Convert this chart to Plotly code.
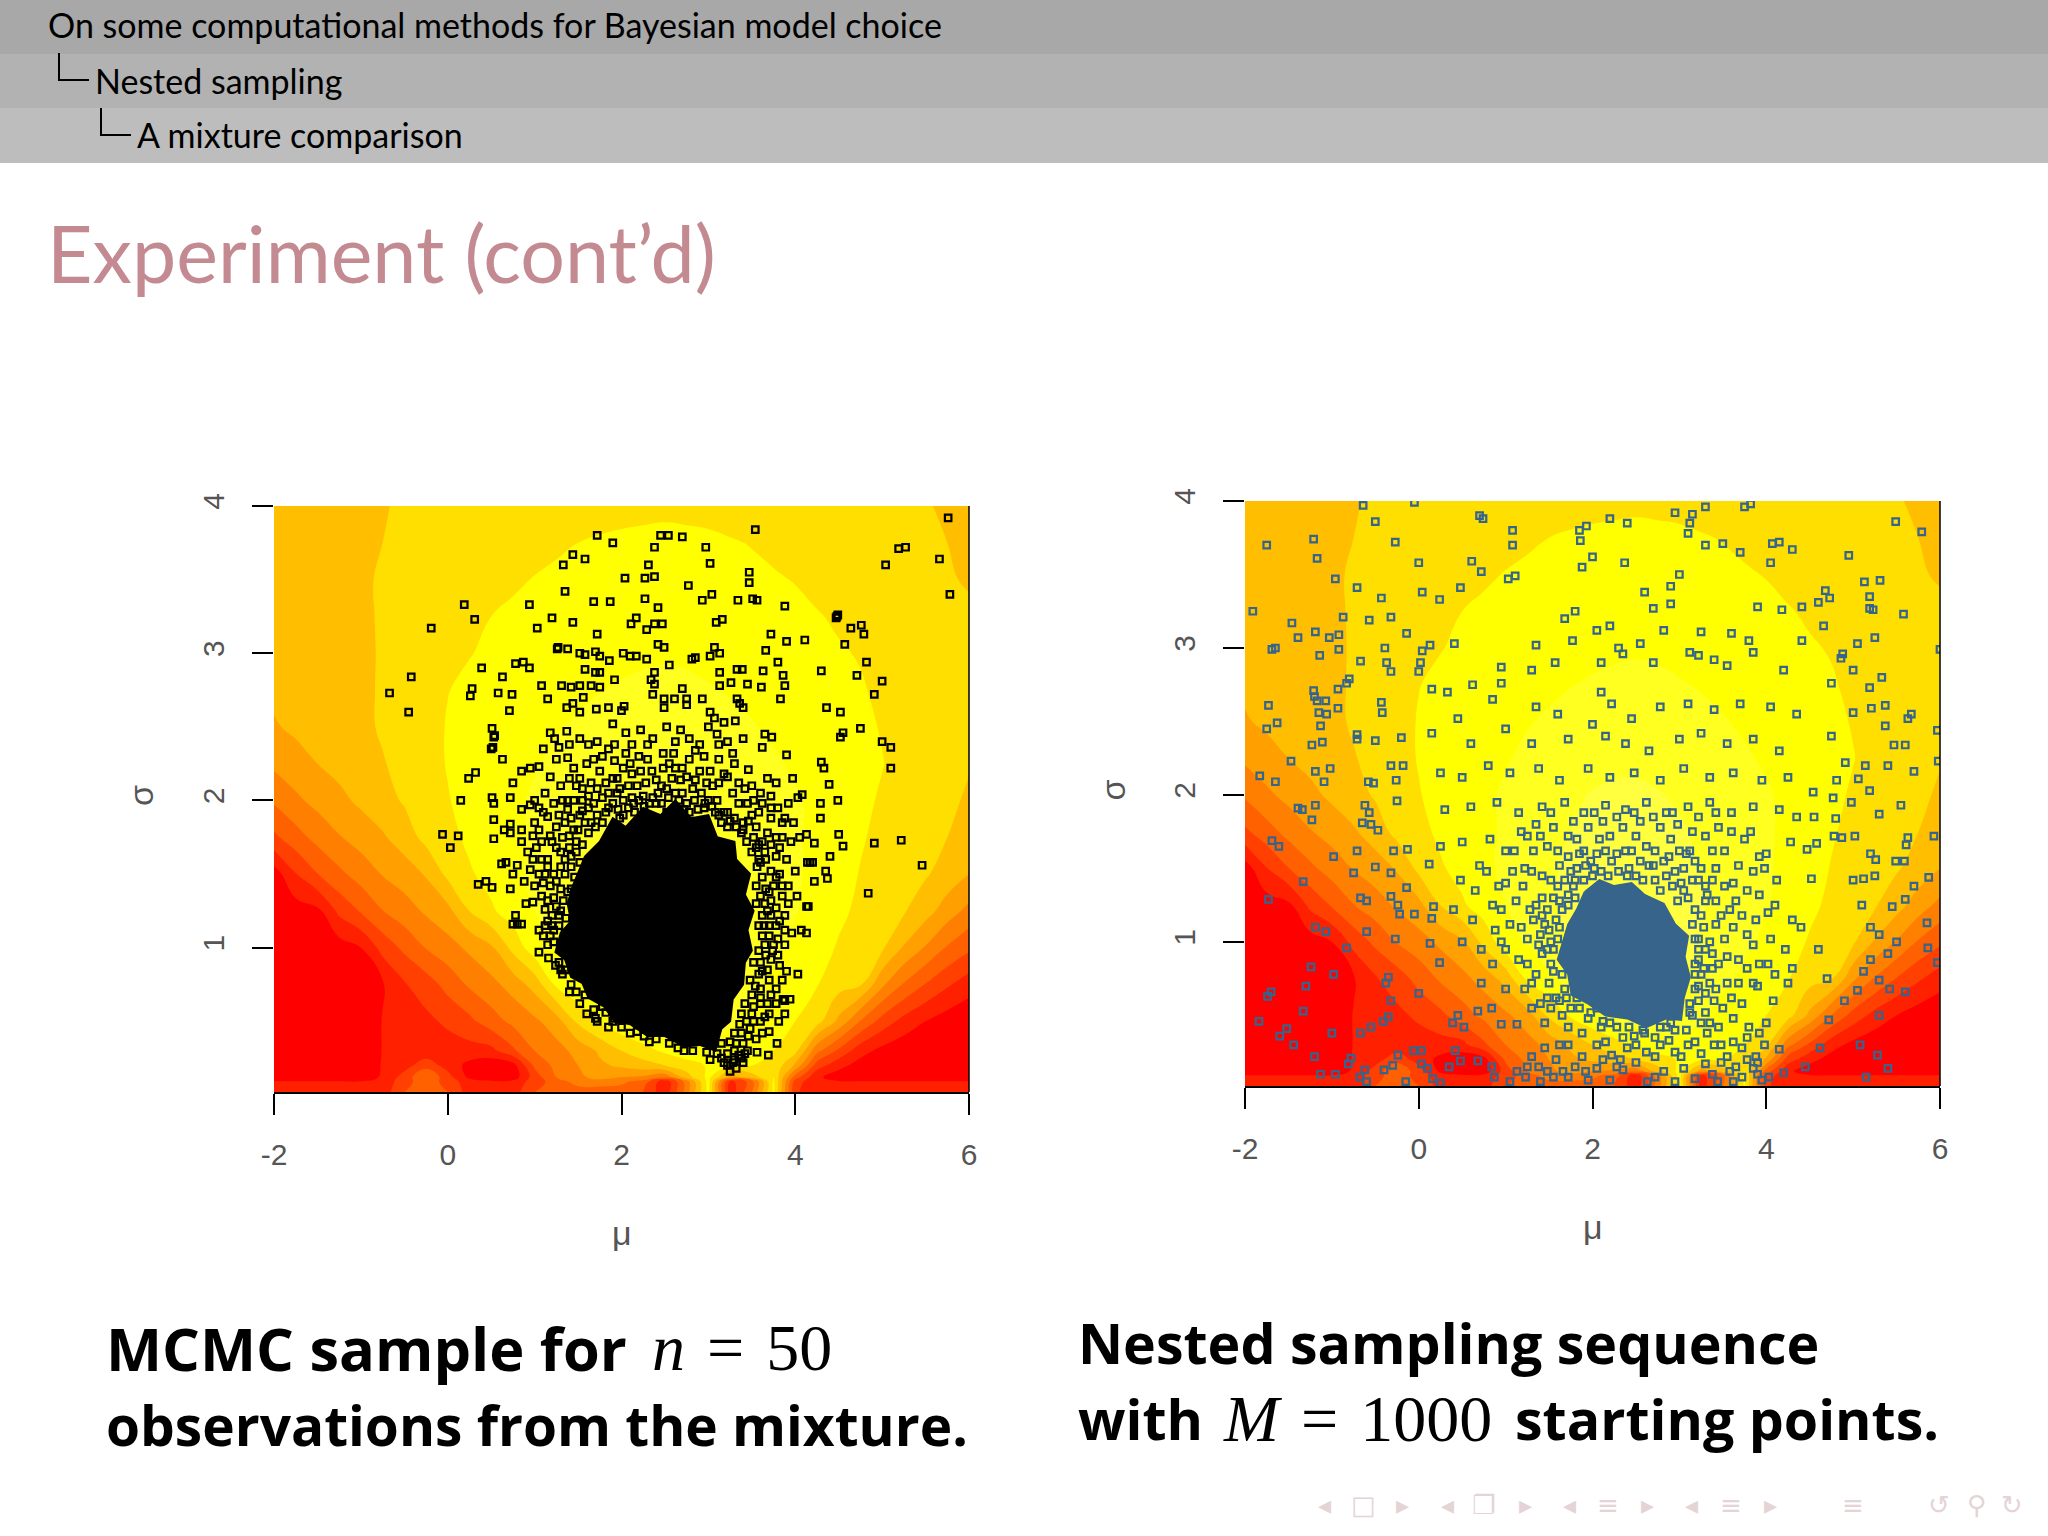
import plotly.graph_objects as go

# Level field behind both panels
grid_mu = [-2, -1.75, -1.5, -1.25, -1, -0.75, -0.5, -0.25, 0, 0.25, 0.5, 0.75, 1, 1.25, 1.5, 1.75, 2,
           2.25, 2.5, 2.75, 3, 3.25, 3.5, 3.75, 4, 4.25, 4.5, 4.75, 5, 5.25, 5.5, 5.75, 6]
grid_sigma = [0.02, 0.09, 0.12, 0.2, 0.3, 0.5, 0.75, 1, 1.25, 1.5, 1.75, 2, 2.25, 2.5, 2.75, 3, 3.25, 3.5, 3.75, 4]
grid_z = [
    [1.2, 1.2, 1.2, 1.2, 1.2, 1.4, 3.0, 3.2, 3.0, 1.5, 1.3, 1.5, 3.0, 3.2, 3.5, 3.3, 3.5, 3.0, 1.3, 4.5, 8.4, 1.3, 4.0, 8.2, 2.2, 1.2, 1.2, 1.2, 1.2, 1.2, 1.2, 1.2, 1.2],
    [1.1, 1.1, 1.1, 1.1, 1.1, 1.3, 2.6, 3.6, 2.6, 1.4, 1.2, 1.3, 2.5, 3.5, 4.4, 4.6, 4.2, 3.6, 1.2, 4.5, 8.4, 1.6, 3.5, 8.2, 2.5, 1.2, 1.1, 1.1, 1.1, 1.1, 1.1, 1.1, 1.1],
    [0.1, 0.1, 0.1, 0.1, 0.2, 1.2, 2.4, 4.0, 2.4, 0.8, 0.3, 0.4, 2.5, 4.0, 4.8, 5.3, 5.0, 4.8, 4.2, 6.5, 8.3, 5.5, 6.5, 8.0, 3.5, 1.2, 0.5, 0.1, 0.1, 0.1, 0.1, 0.1, 0.1],
    [0.05, 0.05, 0.05, 0.05, 0.1, 1.1, 1.6, 2.6, 1.6, 0.7, 0.3, 0.6, 3.2, 4.3, 5.0, 5.8, 6.2, 6.6, 7.0, 7.6, 8.1, 8.1, 8.0, 7.8, 5.8, 2.5, 1.3, 0.6, 0.2, 0.05, 0.05, 0.05, 0.05],
    [0.05, 0.05, 0.05, 0.05, 0.1, 1.05, 1.15, 1.3, 1.5, 1.6, 1.7, 2.8, 4.0, 4.62, 5.33, 6.17, 7.0, 7.6, 8.2, 8.6, 8.8, 8.7, 8.4, 8.0, 7.3, 4.3, 2.8, 1.4, 0.7, 0.3, 0.1, 0.05, 0.05],
    [0.05, 0.05, 0.05, 0.05, 0.1, 1.05, 1.4, 1.75, 2.2, 2.75, 3.55, 4.25, 4.8, 5.55, 7.2, 8.15, 8.8, 9.3, 9.6, 9.6, 9.4, 9.1, 8.7, 8.4, 8.0, 7.4, 5.75, 3.95, 2.6, 1.65, 1.0, 0.5, 0.2],
    [0.05, 0.05, 0.05, 0.1, 0.3, 0.9, 1.9, 2.5, 3.35, 4.15, 4.7, 5.4, 6.4, 8.2, 8.8, 9.4, 9.9, 10.2, 10.3, 10.2, 10.0, 9.6, 9.2, 8.8, 8.35, 8.05, 7.4, 7.1, 5.2, 3.9, 2.95, 2.15, 1.45],
    [0.1, 0.15, 0.25, 0.5, 1.0, 2.35, 3.23, 4.05, 4.6, 5.2, 5.85, 7.3, 8.6, 9.1, 9.6, 10.0, 10.3, 10.5, 10.6, 10.5, 10.3, 9.95, 9.6, 9.2, 8.8, 8.3, 7.93, 7.45, 7.15, 5.9, 4.9, 3.9, 3.2],
    [0.2, 0.5, 0.75, 2.25, 3.1, 3.97, 4.56, 5.15, 5.7, 7.0, 7.85, 8.5, 9.0, 9.45, 9.85, 10.2, 10.45, 10.6, 10.65, 10.55, 10.35, 10.05, 9.7, 9.35, 9.05, 8.7, 8.15, 7.85, 7.45, 7.1, 6.4, 5.5, 4.7],
    [0.5, 1.95, 2.97, 3.77, 4.44, 5.05, 5.48, 6.1, 7.25, 7.88, 8.35, 8.85, 9.15, 9.5, 9.85, 10.2, 10.4, 10.5, 10.5, 10.4, 10.2, 9.95, 9.65, 9.35, 9.1, 8.8, 8.4, 7.95, 7.7, 7.4, 7.1, 6.6, 6.0],
    [2.8, 3.6, 4.33, 4.93, 5.4, 5.87, 6.5, 7.3, 7.7, 8.2, 8.5, 8.85, 9.1, 9.4, 9.7, 10.0, 10.25, 10.4, 10.4, 10.3, 10.1, 9.85, 9.6, 9.35, 9.1, 8.85, 8.5, 8.1, 7.75, 7.5, 7.25, 7.0, 6.6],
    [4.15, 4.8, 5.3, 5.75, 6.2, 6.65, 7.1, 7.5, 7.95, 8.3, 8.6, 8.85, 9.1, 9.35, 9.6, 9.85, 10.05, 10.15, 10.15, 10.05, 9.9, 9.75, 9.5, 9.3, 9.08, 8.85, 8.55, 8.2, 7.9, 7.6, 7.4, 7.15, 6.9],
    [5.2, 5.6, 6.0, 6.3, 6.62, 6.94, 7.28, 7.67, 8.05, 8.3, 8.55, 8.75, 8.95, 9.15, 9.35, 9.55, 9.7, 9.8, 9.82, 9.72, 9.6, 9.45, 9.28, 9.1, 8.9, 8.7, 8.45, 8.22, 8.03, 7.7, 7.4, 7.2, 7.05],
    [5.9, 6.2, 6.45, 6.6, 6.8, 7.1, 7.4, 7.7, 8.05, 8.25, 8.45, 8.6, 8.78, 8.95, 9.1, 9.25, 9.38, 9.45, 9.48, 9.42, 9.3, 9.18, 9.05, 8.88, 8.72, 8.55, 8.35, 8.18, 7.95, 7.65, 7.42, 7.25, 7.12],
    [6.2, 6.3, 6.45, 6.62, 6.85, 7.08, 7.35, 7.65, 7.98, 8.15, 8.3, 8.45, 8.6, 8.72, 8.85, 8.98, 9.08, 9.15, 9.18, 9.15, 9.05, 8.95, 8.82, 8.68, 8.52, 8.38, 8.22, 8.07, 7.85, 7.6, 7.42, 7.28, 7.15],
    [6.25, 6.35, 6.5, 6.65, 6.85, 7.07, 7.3, 7.55, 7.78, 7.97, 8.12, 8.25, 8.4, 8.5, 8.62, 8.72, 8.8, 8.88, 8.92, 8.88, 8.8, 8.7, 8.6, 8.45, 8.32, 8.2, 8.07, 7.95, 7.75, 7.55, 7.4, 7.25, 7.15],
    [6.4, 6.45, 6.55, 6.7, 6.88, 7.07, 7.25, 7.45, 7.65, 7.85, 8.0, 8.12, 8.25, 8.35, 8.45, 8.52, 8.6, 8.65, 8.68, 8.65, 8.58, 8.5, 8.4, 8.3, 8.18, 8.05, 7.9, 7.75, 7.6, 7.45, 7.3, 7.2, 7.1],
    [6.5, 6.55, 6.6, 6.75, 6.9, 7.07, 7.22, 7.38, 7.5, 7.65, 7.78, 7.9, 8.03, 8.12, 8.22, 8.3, 8.38, 8.42, 8.45, 8.42, 8.36, 8.25, 8.15, 8.07, 7.97, 7.8, 7.65, 7.5, 7.38, 7.28, 7.18, 7.05, 6.95],
    [6.5, 6.55, 6.6, 6.7, 6.85, 7.0, 7.15, 7.3, 7.4, 7.5, 7.6, 7.7, 7.78, 7.9, 8.0, 8.08, 8.15, 8.2, 8.25, 8.2, 8.15, 8.05, 7.97, 7.85, 7.7, 7.58, 7.45, 7.35, 7.25, 7.15, 7.05, 7.0, 6.85],
    [6.5, 6.55, 6.6, 6.7, 6.8, 6.95, 7.1, 7.25, 7.35, 7.45, 7.5, 7.55, 7.6, 7.65, 7.7, 7.72, 7.75, 7.78, 7.8, 7.78, 7.75, 7.72, 7.7, 7.65, 7.6, 7.5, 7.4, 7.32, 7.25, 7.15, 7.05, 6.9, 6.7],
]
band_colors = ["#FF0000", "#FF2000", "#FF4000", "#FF6000", "#FF8000", "#FFA000", "#FFBF00", "#FFDF00",
               "#FFFF00", "#FFFF20", "#FFFF40"]

# MCMC sample (left panel)
mcmc_points = [
    (5.76, 3.92), (3.54, 3.84), (1.72, 3.80), (2.45, 3.80), (2.54, 3.80), (2.70, 3.79), (1.90, 3.75), (2.38, 3.72), (2.97, 3.72),
    (5.19, 3.71), (5.27, 3.72), (1.44, 3.67), (1.58, 3.64), (5.66, 3.64), (1.33, 3.60), (2.31, 3.60), (3.02, 3.61), (5.04, 3.60),
    (3.47, 3.55), (3.47, 3.48), (2.04, 3.51), (2.27, 3.51), (2.38, 3.52), (2.77, 3.46), (1.35, 3.42), (5.78, 3.40), (3.04, 3.40),
    (2.93, 3.36), (2.27, 3.37), (3.34, 3.36), (3.51, 3.37), (3.56, 3.36), (0.19, 3.33), (0.94, 3.33), (1.68, 3.35), (1.87, 3.35),
    (2.42, 3.31), (3.88, 3.32), (1.20, 3.24), (2.17, 3.24), (2.11, 3.20), (0.31, 3.23), (3.09, 3.21), (3.16, 3.23), (1.44, 3.21),
    (2.38, 3.20), (2.47, 3.20), (1.03, 3.17), (-0.19, 3.17), (4.64, 3.17), (4.76, 3.19), (4.79, 3.13), (2.29, 3.16), (1.72, 3.13),
    (3.72, 3.13), (4.57, 3.06), (4.11, 3.09), (3.90, 3.08), (4.48, 3.25), (4.49, 3.26), (4.47, 3.24), (2.42, 3.06), (2.49, 3.04),
    (3.07, 3.04), (3.66, 3.02), (1.26, 3.03), (1.27, 3.04), (1.38, 3.03), (1.70, 3.01), (1.75, 2.98), (1.52, 3.00), (1.58, 2.99),
    (2.02, 3.00), (2.17, 2.98), (2.10, 2.98), (2.81, 2.96), (2.85, 2.97), (3.02, 2.98), (3.13, 3.00), (2.29, 2.96), (3.80, 2.94),
    (4.82, 2.94), (0.78, 2.93), (0.87, 2.94), (0.94, 2.90), (0.39, 2.90), (1.86, 2.95), (2.55, 2.92), (1.58, 2.89), (4.30, 2.88),
    (3.63, 2.88), (3.33, 2.89), (3.39, 2.89), (3.13, 2.87), (4.71, 2.85), (3.86, 2.85), (0.63, 2.84), (-0.42, 2.84), (1.70, 2.87),
    (1.75, 2.87), (2.38, 2.87), (1.92, 2.82), (5.00, 2.81), (2.34, 2.82), (2.38, 2.79), (1.08, 2.78), (1.31, 2.78), (1.42, 2.77),
    (1.52, 2.78), (1.65, 2.78), (1.75, 2.77), (3.13, 2.78), (3.26, 2.80), (3.45, 2.79), (3.61, 2.77), (3.88, 2.78), (2.70, 2.76),
    (0.28, 2.76), (0.26, 2.71), (-0.67, 2.73), (0.58, 2.73), (0.74, 2.72), (4.91, 2.72), (1.15, 2.69), (1.56, 2.70), (2.36, 2.72),
    (2.49, 2.69), (2.61, 2.69), (2.75, 2.69), (2.75, 2.65), (2.93, 2.69), (3.33, 2.69), (3.83, 2.69), (3.36, 2.66), (3.40, 2.63),
    (-0.45, 2.60), (4.36, 2.63), (4.52, 2.60), (0.71, 2.61), (1.37, 2.63), (1.44, 2.66), (1.52, 2.60), (1.71, 2.62), (1.85, 2.63),
    (2.0, 2.61), (2.03, 2.64), (2.49, 2.63), (3.02, 2.60), (3.07, 2.56), (3.18, 2.53), (3.31, 2.54), (0.51, 2.49), (0.53, 2.43),
    (0.54, 2.44), (0.50, 2.35), (0.52, 2.36), (0.63, 2.28), (5.10, 2.22), (5.10, 2.36), (5.00, 2.40), (4.75, 2.49), (4.55, 2.46),
    (4.52, 2.43), (4.30, 2.26), (4.33, 2.22), (4.39, 2.11), (4.49, 2.00), (4.29, 1.98), (4.29, 1.88), (3.97, 2.15), (3.90, 2.31),
    (0.15, 2.00), (0.24, 2.15), (0.32, 2.19), (0.51, 2.02), (0.53, 1.98), (0.53, 1.87), (0.53, 1.74), (-0.06, 1.77), (0.12, 1.76),
    (0.03, 1.68), (0.35, 1.43), (0.44, 1.45), (0.51, 1.41), (5.46, 1.56), (5.22, 1.73), (4.91, 1.71), (4.84, 1.37), (4.50, 1.77),
    (4.55, 1.69), (4.13, 1.77), (4.22, 1.71), (4.40, 1.62), (4.35, 1.52), (4.37, 1.47), (4.22, 1.45), (4.14, 1.58), (4.17, 1.58),
    (4.20, 1.58), (4.13, 1.28), (4.02, 1.35), (4.15, 1.28), (4.07, 1.12), (4.13, 1.10), (4.03, 0.82), (3.86, 0.65), (3.81, 0.50),
    (3.88, 0.55), (3.70, 0.43), (3.79, 0.35), (3.69, 0.27), (3.56, 0.29), (3.65, 0.53), (3.88, 0.64), (3.94, 0.65), (1.70, 0.52),
    (1.32, 0.82), (1.05, 0.97), (1.16, 0.93), (1.30, 1.02), (1.35, 1.10), (1.20, 1.15), (1.05, 1.12), (0.85, 1.16), (0.75, 1.16),
    (0.80, 1.16), (0.78, 1.22), (0.90, 1.30), (0.98, 1.31), (1.08, 1.35), (0.72, 1.40), (0.75, 1.50), (0.80, 1.56), (0.95, 1.53),
    (0.67, 1.58), (0.62, 1.57), (1.10, 1.44), (1.22, 1.50), (1.15, 1.60), (1.30, 1.65), (0.72, 1.78), (0.85, 1.80), (0.98, 1.76),
    (0.65, 1.80), (0.72, 1.84), (0.85, 1.94), (0.95, 1.97), (1.0, 2.0), (0.72, 2.02), (0.75, 2.12), (0.85, 2.2), (0.95, 2.22),
    (1.05, 2.23), (1.18, 2.16), (1.32, 2.0), (1.38, 2.0), (1.45, 2.0), (1.55, 1.93), (1.15, 1.89), (1.25, 1.82), (1.40, 1.76),
    (1.50, 1.80), (1.65, 1.85), (1.10, 2.35), (1.18, 2.46), (1.23, 2.42), (1.28, 2.36), (1.38, 2.29), (1.45, 2.22), (1.52, 2.15),
    (1.65, 2.12), (1.75, 2.20), (1.92, 2.27), (2.02, 2.22), (2.12, 2.18), (2.20, 2.30), (2.35, 2.20), (1.52, 2.42), (1.37, 2.47),
    (1.40, 2.38), (1.62, 2.38), (1.72, 2.40), (1.90, 2.52), (2.05, 2.46), (2.12, 2.38), (2.22, 2.48), (2.36, 2.42), (2.52, 2.50),
    (2.68, 2.48), (2.78, 2.42), (2.90, 2.38), (3.10, 2.45), (3.22, 2.40), (3.40, 2.42), (3.65, 2.45), (3.73, 2.43), (3.62, 2.36),
    (3.46, 2.21), (3.42, 2.08), (3.30, 2.25), (3.18, 2.18), (3.05, 2.10), (2.90, 2.20), (2.78, 2.28), (2.60, 2.32), (2.46, 2.10),
    (2.58, 2.15), (2.70, 2.05), (2.84, 2.00), (2.95, 1.95), (3.10, 2.0), (3.22, 1.92), (3.35, 1.98), (3.50, 1.90), (3.62, 1.98),
    (3.72, 2.03), (3.80, 1.95), (3.92, 1.98), (4.03, 2.02), (4.08, 2.04), (3.68, 2.15), (3.40, 1.85), (3.55, 1.82), (3.68, 1.78),
    (3.85, 1.75), (3.95, 1.72), (4.05, 1.75), (3.65, 1.65), (3.78, 1.62), (3.90, 1.60), (4.0, 1.52), (3.72, 1.52), (3.82, 1.50),
    (3.92, 1.42), (3.70, 1.38), (3.60, 1.58), (3.65, 1.30), (3.78, 1.27), (3.88, 1.22), (3.96, 1.10), (3.70, 1.15), (3.80, 1.06),
    (3.88, 1.02), (3.65, 1.02), (3.72, 0.92), (3.82, 0.88), (3.90, 0.84), (3.62, 0.84), (3.70, 0.78), (3.60, 0.72), (3.68, 0.62),
    (3.52, 0.60), (3.60, 0.50), (3.48, 0.45), (3.55, 0.38), (3.40, 0.35), (3.35, 0.27), (3.28, 0.22), (3.22, 0.28), (3.40, 0.22),
    (3.45, 0.30), (3.15, 0.35), (1.50, 0.90), (1.42, 1.40), (1.30, 1.40), (1.42, 1.55), (1.55, 1.70), (1.72, 1.90), (1.85, 1.95),
    (1.95, 2.05), (2.08, 2.10), (2.25, 2.03), (2.40, 1.98), (2.52, 1.92), (1.98, 1.88), (2.15, 1.92), (1.78, 0.60), (1.92, 0.52),
    (2.10, 0.42), (2.40, 0.38), (2.65, 0.32), (2.82, 0.30), (2.98, 0.29), (3.02, 0.24), (1.90, 0.50), (2.26, 0.40),
    # dense fringe around the solid part
    (1.02, 1.68), (1.08, 1.72), (1.12, 1.50), (1.18, 1.42), (1.22, 1.34), (1.25, 1.28), (1.28, 1.22), (1.12, 1.26), (1.15, 1.32),
    (1.35, 1.85), (1.42, 1.88), (1.48, 1.72), (1.35, 1.60), (1.42, 1.62), (1.48, 1.65), (1.35, 1.50), (1.30, 1.55), (1.25, 1.45),
    (1.55, 2.0), (1.62, 2.03), (1.68, 1.98), (1.78, 2.02), (1.82, 2.12), (1.90, 2.15), (1.98, 2.08), (2.02, 2.0), (2.12, 2.02),
    (2.18, 2.10), (2.28, 2.12), (2.32, 1.98), (2.42, 2.05), (2.52, 2.08), (2.62, 2.05), (2.68, 2.14), (2.75, 1.98), (2.82, 2.08),
    (2.92, 2.05), (3.0, 2.0), (3.08, 1.92), (3.15, 1.85), (3.22, 1.82), (3.30, 1.88), (3.38, 1.78), (3.44, 1.72), (3.52, 1.75),
    (3.58, 1.70), (3.50, 1.65), (3.56, 1.55), (3.62, 1.48), (3.55, 1.42), (3.60, 1.35), (3.55, 1.30), (3.62, 1.22), (3.58, 1.15),
    (3.62, 1.08), (3.58, 0.98), (3.52, 0.90), (3.58, 0.82), (3.48, 0.78), (3.50, 0.68), (3.42, 0.62), (3.38, 0.55), (3.36, 0.48),
    (3.30, 0.42), (3.25, 0.36), (1.18, 1.08), (1.22, 1.04), (1.15, 1.02), (1.28, 0.90), (1.35, 0.85), (1.42, 0.75), (1.48, 0.70),
    (1.58, 0.68), (1.68, 0.58), (1.82, 0.56), (2.0, 0.46), (2.18, 0.43), (2.32, 0.36), (2.55, 0.35), (2.72, 0.30), (3.10, 0.28),
    (3.18, 0.22), (3.25, 0.16), (3.32, 0.18), (3.38, 0.25), (3.30, 0.30), (1.62, 1.95), (1.72, 2.08), (1.85, 2.05), (2.22, 2.20),
    (2.48, 2.22), (2.62, 2.22), (2.75, 2.16), (2.98, 2.12), (3.12, 2.12), (3.28, 2.05), (3.45, 1.98), (3.58, 1.92), (1.55, 2.08),
    (1.48, 2.10), (1.40, 2.15), (1.30, 2.10), (1.22, 1.98), (1.12, 2.05), (1.05, 1.95), (1.0, 1.85), (0.92, 1.65), (0.85, 1.72),
    (3.72, 1.88), (3.85, 1.85), (3.78, 1.75), (3.75, 1.42), (3.85, 1.35), (3.78, 1.15), (3.88, 1.12), (3.75, 1.02), (3.72, 0.68),
    (3.78, 0.62), (3.60, 0.62), (3.62, 0.42), (3.52, 0.50), (1.08, 1.60), (1.20, 1.72), (1.32, 1.75), (0.88, 1.45), (1.0, 1.42),
    (2.05, 2.32), (1.85, 2.35), (1.60, 2.25), (2.48, 2.32), (2.95, 2.30), (3.12, 2.28), (3.50, 2.10), (3.78, 2.12), (1.25, 2.28),
    # tightest patch just above and beside the solid part
    (1.52, 1.90), (1.58, 1.85), (1.62, 1.78), (1.70, 1.82), (1.78, 1.85), (1.82, 1.92), (1.90, 1.98), (1.96, 1.94), (2.02, 1.90),
    (2.08, 1.95), (2.14, 1.98), (2.20, 2.0), (2.26, 1.96), (2.36, 2.02), (2.46, 1.98), (2.54, 2.02), (2.66, 2.0), (2.72, 1.94),
    (2.78, 1.92), (2.88, 1.94), (2.96, 1.98), (3.04, 1.96), (3.12, 1.90), (3.18, 1.92), (3.25, 1.86), (3.32, 1.82), (3.40, 1.80),
    (3.46, 1.86), (1.45, 1.80), (1.40, 1.68), (1.52, 1.58), (1.46, 1.48), (1.38, 1.38), (1.33, 1.32), (1.30, 1.25), (1.36, 1.20),
    (1.28, 1.15), (1.20, 1.22), (1.22, 1.12), (1.15, 1.18), (1.10, 1.08), (1.12, 1.15), (1.24, 0.88), (1.30, 0.85), (1.40, 0.70),
    (1.52, 0.62), (1.60, 0.55), (1.72, 0.50), (1.85, 0.46), (3.55, 1.68), (3.62, 1.72), (3.66, 1.60), (3.58, 1.60), (3.66, 1.40),
    (3.68, 1.25), (3.64, 1.15), (3.70, 1.08), (3.66, 0.95), (3.60, 0.90), (3.68, 0.85), (3.54, 0.74), (3.60, 0.66), (3.50, 0.55),
    (3.44, 0.50), (3.46, 0.40), (3.38, 0.42), (3.32, 0.35), (3.42, 0.28), (3.15, 0.25), (3.22, 0.20), (3.30, 0.24), (1.95, 2.15),
    (2.10, 2.25), (2.30, 2.28), (2.40, 2.14), (2.55, 2.25), (2.70, 2.22), (2.85, 2.14), (3.02, 2.20), (3.22, 2.16), (3.35, 2.12),
    (1.68, 2.28), (1.78, 2.30), (1.92, 2.38), (2.30, 2.38), (2.62, 2.40), (2.85, 2.34), (3.0, 2.50), (3.12, 2.38), (3.28, 2.32),
    (1.05, 1.80), (1.10, 1.92), (1.18, 1.76), (1.28, 1.90), (1.38, 1.94), (1.25, 1.68), (1.15, 1.55), (1.05, 1.50), (0.98, 1.60),
    (3.72, 1.70), (3.82, 1.68), (3.88, 1.88), (3.98, 1.85), (3.72, 1.95), (3.60, 2.05), (3.52, 2.0), (3.85, 1.42), (3.78, 1.48),
    (3.72, 1.32), (3.82, 1.18), (3.74, 0.98), (3.80, 0.95), (3.78, 0.72), (3.70, 0.55), (3.85, 0.78), (3.72, 1.22), (3.92, 1.30),
]
mcmc_core_mu = [1.58, 1.50, 1.44, 1.38, 1.42, 1.30, 1.24, 1.35, 1.42, 1.55, 1.62, 1.80, 1.92, 2.10, 2.30, 2.50, 2.72, 2.90, 3.08, 3.15,
                3.25, 3.28, 3.40, 3.42, 3.50, 3.45, 3.52, 3.42, 3.48, 3.32, 3.30, 3.10, 3.00, 2.80, 2.62, 2.45, 2.25, 2.05, 1.90, 1.75]
mcmc_core_sigma = [1.62, 1.50, 1.42, 1.30, 1.18, 1.10, 0.97, 0.92, 0.80, 0.76, 0.66, 0.60, 0.50, 0.48, 0.40, 0.40, 0.33, 0.34, 0.30, 0.45,
                   0.50, 0.65, 0.75, 0.90, 0.98, 1.12, 1.25, 1.36, 1.50, 1.60, 1.72, 1.75, 1.90, 1.88, 2.00, 1.90, 1.95, 1.82, 1.88, 1.72]

# Nested sampling sequence (right panel)
nested_points = [
    (-0.64, 3.97), (-0.05, 3.99), (-0.50, 3.86), (0.70, 3.90), (0.74, 3.88), (1.08, 3.80), (1.08, 3.70), (-1.75, 3.70), (-1.21, 3.74),
    (-1.17, 3.61), (-0.27, 3.72), (0.0, 3.58), (0.61, 3.59), (0.72, 3.52), (1.03, 3.47), (1.11, 3.49), (-0.96, 3.47), (-0.71, 3.41),
    (0.04, 3.38), (0.48, 3.41), (0.24, 3.33), (-0.43, 3.34), (-1.91, 3.25), (-0.87, 3.21), (-0.57, 3.19), (-0.32, 3.21), (-1.46, 3.17),
    (-1.19, 3.11), (-1.39, 3.07), (-1.03, 3.07), (-0.92, 3.09), (-0.14, 3.10), (0.13, 3.02), (0.41, 3.03), (0.04, 2.98), (-0.39, 3.0),
    (-1.65, 3.0), (-1.69, 2.99), (-1.14, 2.95), (-0.92, 2.99), (-0.67, 2.91), (-0.37, 2.90), (-0.32, 2.84), (0.02, 2.90), (0.0, 2.84),
    (-0.80, 2.79), (-0.83, 2.76), (-0.93, 2.72), (-1.21, 2.71), (-1.20, 2.67), (-1.17, 2.64), (-1.07, 2.64), (-1.15, 2.56), (-1.06, 2.55),
    (-0.93, 2.59), (-1.73, 2.61), (-0.43, 2.63), (-0.42, 2.56), (-1.63, 2.49), (-1.75, 2.45), (-1.13, 2.47), (-0.71, 2.41), (-0.71, 2.38),
    (-0.50, 2.37), (-1.11, 2.36), (-1.23, 2.34), (-0.20, 2.39), (-1.47, 2.23), (-0.32, 2.20), (-0.18, 2.20), (-1.19, 2.16), (-1.02, 2.18),
    (-1.83, 2.13), (-1.65, 2.09), (-1.09, 2.09), (-0.58, 2.09), (-0.52, 2.08), (-0.26, 2.10), (-0.25, 1.96), (-0.62, 1.93), (-0.57, 1.88),
    (-1.39, 1.91), (-1.34, 1.90), (-1.19, 1.93), (-1.23, 1.83), (-0.65, 1.81), (-0.55, 1.80), (-0.47, 1.76), (-1.69, 1.69), (-1.61, 1.65),
    (-0.71, 1.62), (-0.98, 1.58), (-0.29, 1.62), (-0.13, 1.63), (-0.50, 1.51), (0.12, 1.53), (-0.75, 1.47), (-0.32, 1.47), (-1.33, 1.41),
    (-0.14, 1.37), (-0.32, 1.31), (-1.73, 1.29), (-0.67, 1.30), (-0.60, 1.28), (-0.24, 1.25), (-0.22, 1.19), (-0.05, 1.19), (0.17, 1.24),
    (0.15, 1.16), (-1.19, 1.10), (-1.07, 1.07), (-0.60, 1.07), (-0.27, 1.02), (0.13, 0.99), (-0.83, 0.96), (-1.24, 0.83), (-0.98, 0.78),
    (-0.35, 0.76), (-0.38, 0.72), (0.24, 0.86), (-1.70, 0.66), (-1.74, 0.63), (-1.30, 0.70), (-0.32, 0.60), (0.0, 0.65), (-1.33, 0.53),
    (-1.84, 0.46), (-1.52, 0.41), (-1.60, 0.36), (-1.0, 0.38), (-1.44, 0.30), (-0.35, 0.49), (-0.41, 0.46), (-0.55, 0.42), (-0.67, 0.38),
    (0.45, 0.50), (0.39, 0.45), (0.68, 0.53), (0.52, 0.42), (0.84, 0.55), (0.95, 0.44), (1.13, 0.44), (-1.20, 0.22), (-0.78, 0.21),
    (-0.81, 0.17), (-0.24, 0.23), (-0.30, 0.16), (-0.40, 0.13), (-0.62, 0.13), (-0.68, 0.08), (-1.13, 0.10), (-0.96, 0.10), (-0.06, 0.26),
    (0.03, 0.26), (0.10, 0.14), (0.03, 0.17), (0.42, 0.26), (0.48, 0.19), (0.35, 0.15), (0.68, 0.19), (0.84, 0.15), (0.87, 0.08),
    (0.16, 0.07), (1.13, 0.12), (1.23, 0.08), (-0.60, 0.05), (-0.15, 0.05), (0.25, 0.04), (1.05, 0.05), (1.40, 0.05), (1.55, 0.08),
    (1.66, 0.12), (1.80, 0.15), (1.95, 0.06), (2.05, 0.14), (2.20, 0.06), (2.35, 0.13), (2.50, 0.18), (2.63, 0.05), (2.82, 0.12),
    (2.95, 0.05), (3.05, 0.14), (3.18, 0.07), (3.30, 0.17), (3.44, 0.05), (3.58, 0.12), (3.72, 0.08), (3.85, 0.14), (3.90, 0.10),
    (3.95, 0.06), (4.03, 0.08), (4.20, 0.11), (4.45, 0.15), (4.62, 0.28), (5.15, 0.08), (5.08, 0.30), (5.28, 0.23), (5.40, 0.14),
    (1.30, 0.22), (1.45, 0.28), (1.58, 0.20), (1.72, 0.30), (1.88, 0.22), (2.05, 0.30), (2.22, 0.23), (2.40, 0.28), (2.62, 0.25),
    (2.78, 0.30), (2.95, 0.25), (3.10, 0.30), (3.25, 0.24), (3.40, 0.30), (3.55, 0.22), (3.72, 0.28), (3.88, 0.22), (3.98, 0.30),
    (4.15, 0.27), (6.0, 2.99), (5.97, 2.44), (5.98, 2.23), (5.93, 1.72), (5.87, 1.44), (5.85, 1.13), (5.86, 0.96), (5.97, 0.86),
    (5.79, 3.79), (5.49, 3.86), (4.95, 3.63), (5.13, 3.45), (5.31, 3.46), (5.19, 3.35), (5.19, 3.27), (5.23, 3.26), (5.58, 3.23),
    (4.68, 3.39), (4.73, 3.34), (4.60, 3.31), (4.41, 3.28), (4.18, 3.26), (3.90, 3.28), (4.66, 3.15), (5.05, 3.03), (5.25, 3.07),
    (4.41, 3.05), (4.88, 2.96), (4.86, 2.93), (5.0, 2.85), (5.33, 2.80), (5.19, 2.73), (4.75, 2.76), (5.21, 2.59), (5.37, 2.61),
    (5.0, 2.56), (5.67, 2.55), (5.63, 2.52), (5.37, 2.47), (4.75, 2.40), (5.47, 2.34), (5.60, 2.34), (5.14, 2.20), (5.40, 2.20),
    (4.91, 2.22), (4.81, 2.10), (5.06, 2.11), (5.19, 2.03), (5.70, 2.16), (5.30, 1.87), (5.55, 1.93), (4.54, 2.02), (4.77, 1.98),
    (4.98, 1.95), (4.55, 1.85), (4.80, 1.84), (5.63, 1.71), (5.61, 1.66), (4.87, 1.71), (5.02, 1.72), (4.78, 1.72), (4.58, 1.67),
    (4.47, 1.63), (5.20, 1.60), (5.26, 1.56), (5.49, 1.55), (5.59, 1.55), (4.52, 1.43), (5.00, 1.42), (5.12, 1.43), (5.25, 1.45),
    (5.70, 1.38), (5.60, 1.29), (5.45, 1.24), (5.10, 1.25), (5.20, 1.10), (5.30, 1.05), (5.50, 1.0), (5.40, 0.92), (5.20, 0.88),
    (5.12, 0.80), (5.30, 0.74), (5.42, 0.68), (5.60, 0.66), (5.05, 0.67), (4.90, 0.60), (4.72, 0.47), (5.30, 0.50), (4.70, 0.75),
    (4.60, 0.95), (4.40, 1.10), (4.30, 0.82), (3.75, 3.96), (2.95, 3.92), (3.15, 3.91), (3.30, 3.96), (3.82, 3.98), (2.20, 3.88),
    (2.40, 3.85), (3.12, 3.85), (3.10, 3.78), (1.85, 3.80), (1.86, 3.73), (1.93, 3.83), (2.0, 3.62), (1.88, 3.55), (2.37, 3.58),
    (3.30, 3.70), (3.50, 3.71), (3.70, 3.65), (4.07, 3.71), (4.15, 3.72), (4.30, 3.67), (4.05, 3.58), (3.0, 3.50), (2.90, 3.42),
    (2.60, 3.38), (2.70, 3.27), (2.90, 3.30), (1.80, 3.25), (1.68, 3.20), (2.05, 3.12), (2.20, 3.15), (3.25, 3.11), (2.82, 3.12),
    (3.60, 3.10), (3.80, 3.05), (1.35, 3.02), (1.77, 3.05), (2.10, 2.90), (1.57, 2.90), (2.30, 3.0), (2.35, 2.96), (2.55, 3.03),
    (2.70, 2.90), (3.12, 2.97), (3.22, 2.95), (3.40, 2.92), (3.55, 2.88), (3.85, 2.97), (4.20, 2.85), (1.30, 2.85), (0.95, 2.87),
    (0.95, 2.76), (0.62, 2.75), (0.33, 2.70), (0.15, 2.72), (0.85, 2.65), (1.35, 2.60), (1.60, 2.55), (2.10, 2.70), (2.22, 2.62),
    (2.45, 2.52), (2.78, 2.60), (3.10, 2.62), (3.40, 2.58), (3.70, 2.62), (4.05, 2.60), (4.35, 2.55), (0.45, 2.52), (0.15, 2.42),
    (0.60, 2.35), (1.00, 2.45), (1.30, 2.35), (1.72, 2.38), (2.0, 2.48), (2.15, 2.40), (2.38, 2.35), (2.65, 2.30), (3.0, 2.38),
    (3.25, 2.42), (3.55, 2.35), (3.85, 2.38), (4.15, 2.30), (0.25, 2.15), (0.50, 2.12), (0.80, 2.20), (1.05, 2.15), (1.38, 2.18),
    (1.62, 2.10), (1.95, 2.18), (2.20, 2.12), (2.48, 2.15), (2.78, 2.10), (3.05, 2.18), (3.35, 2.12), (3.62, 2.15), (3.95, 2.10),
    (4.25, 2.12), (0.30, 1.90), (0.60, 1.92), (0.90, 1.95), (1.15, 1.88), (1.42, 1.92), (1.68, 1.95), (1.90, 1.88), (2.15, 1.93),
    (2.38, 1.90), (2.62, 1.95), (2.85, 1.88), (3.10, 1.92), (3.35, 1.95), (3.60, 1.88), (3.85, 1.92), (4.15, 1.90), (4.35, 1.85),
    (0.25, 1.65), (0.50, 1.68), (0.82, 1.70), (1.0, 1.62), (1.25, 1.72), (1.48, 1.65), (1.72, 1.72), (1.90, 1.62), (2.08, 1.70),
    (2.28, 1.60), (2.50, 1.72), (2.72, 1.62), (2.90, 1.70), (3.08, 1.60), (3.30, 1.72), (3.52, 1.62), (3.75, 1.70), (4.0, 1.60),
    (4.28, 1.68), (0.48, 1.42), (0.78, 1.48), (1.0, 1.40), (1.22, 1.50), (1.42, 1.45), (1.62, 1.52), (1.80, 1.42), (2.02, 1.50),
    (2.22, 1.55), (2.42, 1.50), (2.65, 1.52), (2.85, 1.45), (3.05, 1.50), (3.22, 1.42), (3.42, 1.50), (3.62, 1.40), (3.85, 1.48),
    (4.12, 1.42), (0.40, 1.22), (0.62, 1.15), (0.85, 1.25), (1.05, 1.12), (1.28, 1.22), (1.45, 1.12), (1.62, 1.28), (1.78, 1.38),
    (3.05, 1.35), (3.18, 1.22), (3.32, 1.32), (3.48, 1.18), (3.65, 1.28), (3.88, 1.15), (4.10, 1.25), (4.30, 1.15), (0.50, 1.0),
    (0.72, 0.95), (0.95, 1.0), (1.15, 0.88), (1.38, 0.98), (1.52, 0.85), (3.22, 1.02), (3.38, 0.92), (3.52, 1.02), (3.68, 0.88),
    (3.85, 0.98), (4.02, 0.85), (4.22, 0.95), (0.72, 0.72), (1.0, 0.68), (1.30, 0.72), (1.48, 0.62), (1.65, 0.50), (3.22, 0.70),
    (3.40, 0.60), (3.55, 0.72), (3.72, 0.58), (3.90, 0.70), (4.08, 0.60), (4.25, 0.72), (1.45, 0.45), (1.72, 0.42), (1.88, 0.38),
    (2.10, 0.42), (2.35, 0.35), (2.60, 0.38), (2.85, 0.42), (3.08, 0.40), (3.25, 0.45), (3.45, 0.42), (3.62, 0.48), (3.80, 0.42),
    (4.0, 0.45), (2.0, 1.30), (1.85, 1.18), (1.60, 1.02), (1.65, 0.78), (1.82, 0.62), (2.05, 0.55), (3.18, 0.85), (3.12, 0.58),
    # denser ring around the solid part
    (1.32, 1.62), (1.40, 1.72), (1.55, 1.78), (1.60, 1.62), (1.72, 1.58), (1.82, 1.70), (1.95, 1.78), (2.05, 1.60), (2.12, 1.82),
    (2.20, 1.72), (2.35, 1.78), (2.45, 1.62), (2.55, 1.82), (2.62, 1.65), (2.78, 1.78), (2.82, 1.55), (2.98, 1.80), (3.0, 1.62),
    (3.15, 1.75), (3.18, 1.55), (3.38, 1.62), (3.45, 1.78), (1.20, 1.38), (1.30, 1.48), (1.42, 1.30), (1.52, 1.42), (1.60, 1.38),
    (1.68, 1.42), (1.72, 1.32), (1.82, 1.50), (1.90, 1.42), (1.98, 1.55), (2.10, 1.48), (2.30, 1.48), (2.50, 1.45), (2.72, 1.42),
    (2.92, 1.38), (2.98, 1.28), (3.10, 1.30), (3.15, 1.42), (3.25, 1.18), (3.30, 1.38), (3.42, 1.28), (3.52, 1.38), (3.58, 1.22),
    (1.18, 1.10), (1.25, 1.02), (1.32, 1.15), (1.40, 1.05), (1.48, 1.22), (1.52, 1.00), (1.58, 1.15), (1.65, 1.22), (1.55, 1.30),
    (3.15, 1.12), (3.22, 0.95), (3.28, 1.10), (3.35, 1.00), (3.42, 1.12), (3.18, 0.78), (3.28, 0.82), (3.35, 0.72), (3.45, 0.85),
    (3.55, 0.90), (3.62, 1.10), (1.25, 0.85), (1.35, 0.78), (1.42, 0.92), (1.50, 0.72), (1.55, 0.80), (1.58, 0.62), (1.68, 0.68),
    (1.75, 0.55), (1.95, 0.48), (2.12, 0.46), (2.28, 0.42), (2.48, 0.36), (2.72, 0.35), (2.95, 0.40), (3.15, 0.50), (3.22, 0.60),
    (3.30, 0.52), (3.35, 0.45), (3.50, 0.55), (3.60, 0.62), (1.52, 0.55), (1.40, 0.58), (1.30, 0.55), (1.22, 0.68), (3.68, 0.72),
    (3.78, 0.82), (3.85, 0.72), (3.92, 0.85), (3.78, 1.05), (3.72, 1.18), (3.92, 1.32), (3.78, 1.35), (3.68, 1.52), (3.92, 1.58),
    (0.95, 1.22), (1.12, 1.28), (1.08, 1.48), (0.92, 1.38), (0.88, 1.08), (1.0, 0.95), (0.85, 0.85), (0.65, 1.35), (0.70, 1.52),
    (2.15, 0.32), (2.32, 0.20), (2.50, 0.30), (2.72, 0.22), (2.88, 0.33), (3.02, 0.22), (3.18, 0.32), (3.32, 0.38), (3.48, 0.30),
    (3.62, 0.32), (3.78, 0.35), (3.92, 0.38), (3.90, 0.18), (3.78, 0.20), (3.65, 0.15), (3.48, 0.18), (1.92, 0.12), (2.12, 0.20),
    (1.38, 0.15), (1.48, 0.12), (1.25, 0.15), (1.72, 0.08), (2.28, 0.15), (2.72, 0.08), (3.38, 0.10), (3.62, 0.05), (1.62, 0.30),
    # closest shell of the ring
    (1.75, 1.48), (1.85, 1.60), (1.92, 1.52), (2.0, 1.45), (2.15, 1.62), (2.18, 1.45), (2.38, 1.62), (2.40, 1.45), (2.55, 1.55),
    (2.58, 1.42), (2.70, 1.52), (2.78, 1.35), (2.88, 1.58), (2.95, 1.48), (3.02, 1.40), (3.12, 1.62), (3.25, 1.50), (3.30, 1.28),
    (3.38, 1.42), (1.35, 1.25), (1.42, 1.18), (1.50, 1.08), (1.55, 0.95), (1.62, 1.10), (1.72, 1.25), (1.80, 1.30), (1.48, 0.95),
    (3.18, 1.02), (3.22, 0.88), (3.25, 0.78), (3.30, 0.65), (3.18, 0.68), (3.12, 0.52), (3.38, 0.82), (3.30, 0.95), (3.42, 0.68),
    (1.62, 0.60), (1.70, 0.62), (1.85, 0.55), (1.98, 0.52), (2.20, 0.45), (2.42, 0.42), (2.58, 0.40), (2.78, 0.42), (2.90, 0.45),
    (1.10, 1.62), (1.18, 1.75), (1.35, 1.80), (1.52, 1.88), (1.78, 1.82), (2.02, 1.88), (2.28, 1.85), (2.48, 1.88), (2.70, 1.85),
    (2.92, 1.88), (3.22, 1.85), (3.42, 1.88), (3.60, 1.75), (3.82, 1.75), (3.98, 1.50), (4.02, 1.20), (4.05, 1.02), (4.10, 0.78),
]
nested_core_mu = [1.91, 1.82, 1.72, 1.66, 1.60, 1.72, 1.76, 1.95, 2.15, 2.40, 2.62, 2.85, 3.02, 3.05, 3.12, 3.06, 3.10, 2.95, 2.82, 2.60, 2.45, 2.25, 2.08]
nested_core_sigma = [1.34, 1.22, 1.12, 1.00, 0.88, 0.78, 0.64, 0.58, 0.50, 0.48, 0.42, 0.48, 0.47, 0.62, 0.76, 0.90, 1.04, 1.12, 1.26, 1.32, 1.40, 1.38, 1.42]

x_ticks = [-2, 0, 2, 4, 6]
x_labels = ["-2", "0", "2", "4", "6"]
y_ticks = [1, 2, 3, 4]

W, H = 2048, 1536
def px(x):
    return x / W
def py(y):
    return 1 - y / H

fig = go.Figure()

# stepped colour scale so each band stays flat
colorscale = []
for i, c in enumerate(band_colors):
    colorscale.append([i / len(band_colors), c])
    colorscale.append([(i + 1) / len(band_colors), c])

panels = [
    ("", "", mcmc_points, mcmc_core_mu, mcmc_core_sigma, "black", (274, 969, 506, 1092)),
    ("2", "2", nested_points, nested_core_mu, nested_core_sigma, "#36648B", (1245, 1940, 501, 1086)),
]
for xn, yn, pts, core_mu, core_sigma, color, box in panels:
    fig.add_trace(go.Contour(
        x=grid_mu, y=grid_sigma, z=grid_z, xaxis="x" + xn, yaxis="y" + yn,
        colorscale=colorscale, zmin=0, zmax=len(band_colors), showscale=False,
        contours=dict(start=0, end=len(band_colors), size=1, coloring="fill", showlines=False),
        line=dict(width=0, smoothing=1.3),
    ))
    fig.add_trace(go.Scatter(
        x=core_mu + core_mu[:1], y=core_sigma + core_sigma[:1], xaxis="x" + xn, yaxis="y" + yn,
        mode="lines", fill="toself", fillcolor=color, line=dict(color=color, width=2),
    ))
    fig.add_trace(go.Scatter(
        x=[p[0] for p in pts], y=[p[1] for p in pts], xaxis="x" + xn, yaxis="y" + yn, mode="markers",
        marker=dict(symbol="square-open", size=6.5, color=color, line=dict(color=color, width=2.2)),
    ))
    left, right, top, bottom = box
    axis_font = dict(family="Liberation Sans", size=30, color="#555555")
    fig.update_layout({
        "xaxis" + xn: dict(domain=[px(left), px(right)], range=[-2, 6], anchor="y" + yn, tickvals=x_ticks, ticktext=x_labels,
                           ticks="outside", ticklen=21, tickwidth=1.5, tickcolor="black", showline=True, automargin=False,
                           linecolor="black", linewidth=1.5, showgrid=False, zeroline=False,
                           tickfont=axis_font, ticklabelstandoff=14),
        "yaxis" + yn: dict(domain=[py(bottom), py(top)], range=[0.02, 4], anchor="x" + xn, tickvals=y_ticks,
                           ticks="outside", ticklen=21, tickwidth=1.5, tickcolor="black", showgrid=False, automargin=False,
                           zeroline=False, tickangle=-90, tickfont=axis_font, ticklabelstandoff=16),
    })
    fig.add_shape(type="line", xref="paper", yref="paper", x0=px(right), x1=px(right), y0=py(top), y1=py(bottom),
                  line=dict(color="black", width=1.5))
    fig.add_annotation(x=px((left + right) / 2), y=py(bottom + 141), xref="paper", yref="paper", text="μ", showarrow=False,
                       xanchor="center", yanchor="middle", font=dict(family="Liberation Sans", size=34, color="#555555"))
    fig.add_annotation(x=px(left - 133), y=py((top + bottom) / 2 - 3), xref="paper", yref="paper", text="σ", showarrow=False,
                       xanchor="center", yanchor="middle", textangle=-90, font=dict(family="Liberation Sans", size=34, color="#555555"))

# header bands
for y0, y1, c in [(0, 54, "#A8A8A8"), (54, 108, "#B2B2B2"), (108, 163, "#BDBDBD")]:
    fig.add_shape(type="rect", xref="paper", yref="paper", x0=0, x1=1, y0=py(y1), y1=py(y0), fillcolor=c, line_width=0, layer="below")
for x0, y0, x1, y1 in [(59, 53, 89, 80), (101, 108, 131, 135)]:
    fig.add_shape(type="path", xref="paper", yref="paper",
                  path=f"M {px(x0)} {py(y0)} L {px(x0)} {py(y1)} L {px(x1)} {py(y1)}", line=dict(color="black", width=2))

def label(x, y, text, size, color="black", family="Lato", anchor="left", weight=400):
    fig.add_annotation(x=px(x), y=py(y), xref="paper", yref="paper", text=text, showarrow=False, xanchor=anchor,
                       yanchor="middle", align="left", font=dict(family=family, size=size, color=color, weight=weight))

label(46, 24, "On some computational methods for Bayesian model choice", 34)
label(93, 80, "Nested sampling", 34)
label(135, 134, "A mixture comparison", 34)
label(45, 253, "Experiment (cont’d)", 79, color="#C48A91")

cap = "Open Sans"
math = "Liberation Serif"
label(104, 1347, "MCMC sample for", 59.5, family=cap, weight=700)
label(650, 1347, "<i>n</i>\u2004=\u200450", 66, family=math)
label(104, 1424, "observations from the mixture.", 55, family=cap, weight=700)
label(1076, 1342, "Nested sampling sequence", 55.5, family=cap, weight=700)
label(1076, 1418, "with", 55.5, family=cap, weight=700)
label(1221, 1418, "<i>M</i>\u2004=\u20041000", 66, family=math)
label(1513, 1418, "starting points.", 55.5, family=cap, weight=700)

# navigation symbols
nav_color = "#E4D4D6"
for x, t in [(1324, "◂"), (1363, "□"), (1402, "▸"), (1447, "◂"), (1483, "❐"), (1525, "▸"), (1569, "◂"), (1608, "≡"),
             (1647, "▸"), (1691, "◂"), (1731, "≡"), (1770, "▸"), (1853, "≡"), (1939, "↺"), (1976, "⚲"), (2012, "↻")]:
    label(x, 1505, t, 26, color=nav_color, family="DejaVu Sans", anchor="center")

fig.update_layout(width=W, height=H, margin=dict(l=0, r=0, t=0, b=0), showlegend=False, autosize=False,
                  paper_bgcolor="white", plot_bgcolor="white")

fig.write_html("out.html", post_script="document.body.style.margin='0';", config=dict(displayModeBar=False))
